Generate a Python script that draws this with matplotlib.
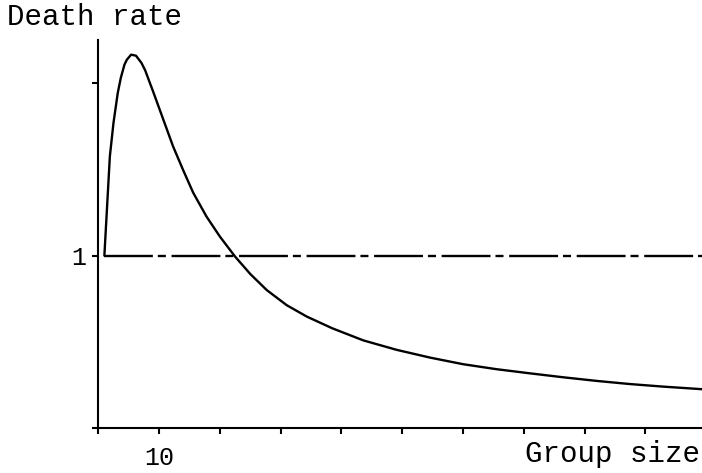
import matplotlib
matplotlib.use('Agg')
import matplotlib.pyplot as plt

# values
group_size = [1, 1.9, 2.5, 3.2, 3.7, 4.3, 4.7, 5.4, 6.2, 7.1, 7.7, 9.1, 10.7, 12.3,
              14.0, 15.6, 17.8, 20.0, 22.5, 25.0, 27.7, 31.0, 34.3, 38.5, 43.6, 49.1,
              54.6, 60.0, 65.5, 71.0, 76.5, 82.0, 87.4, 92.9, 99.3]
death_rate = [1.0, 1.575, 1.77, 1.943, 2.03, 2.107, 2.136, 2.165, 2.159, 2.117, 2.075,
              1.943, 1.788, 1.633, 1.492, 1.365, 1.226, 1.110, 0.994, 0.893, 0.800,
              0.712, 0.646, 0.578, 0.508, 0.453, 0.408, 0.370, 0.341, 0.317, 0.294,
              0.273, 0.255, 0.240, 0.225]
ref_level = 1.0

x_ticks = [0, 10, 20, 30, 40, 50, 60, 70, 80, 90]
x_tick_labels = ['', '10', '', '', '', '', '', '', '', '']
y_ticks = [0, 1, 2]
y_tick_labels = ['', '1', '']

x_max = 99.3
y_max = 2.25

plt.rcParams['font.family'] = ['Liberation Mono', 'DejaVu Sans Mono']

fig = plt.figure(figsize=(7.02, 4.73), dpi=100)
ax = fig.add_axes([98.3 / 702, 45 / 473, (702 - 98.3) / 702, 388 / 473])

ax.plot(group_size, death_rate, color='black', lw=1.7,
        solid_joinstyle='round', solid_capstyle='round')
ax.plot([group_size[0], x_max], [ref_level, ref_level], color='black', lw=1.7,
        dashes=(20.7, 2.1, 3.4, 2.4))

ax.set_xlim(0, x_max)
ax.set_ylim(0, y_max)

ax.spines['top'].set_visible(False)
ax.spines['right'].set_visible(False)
ax.spines['left'].set_linewidth(1.5)
ax.spines['bottom'].set_linewidth(1.5)

ax.set_xticks(x_ticks)
ax.set_xticklabels(x_tick_labels)
ax.set_yticks(y_ticks)
ax.set_yticklabels(y_tick_labels)
ax.tick_params(axis='x', direction='out', length=4, width=1.5, pad=9, labelsize=18)
ax.tick_params(axis='y', direction='out', length=4.5, width=1.5, pad=4.5, labelsize=18)

fig.text(7 / 702, 1 - 25 / 473, 'Death rate', fontsize=21, va='baseline', ha='left')
fig.text(700 / 702, (473 - 461.7) / 473, 'Group size', fontsize=21, va='baseline', ha='right')

fig.savefig('out.png', dpi=100)
